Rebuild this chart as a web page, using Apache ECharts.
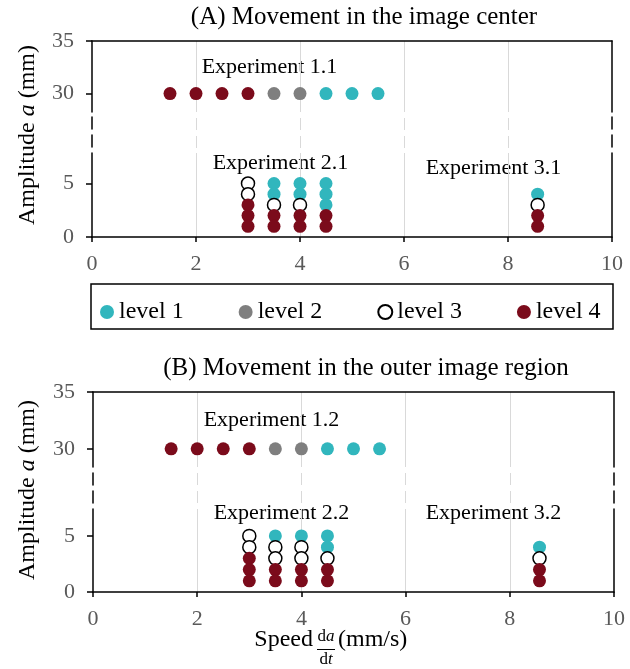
<!DOCTYPE html>
<html>
<head>
<meta charset="utf-8">
<script src="https://cdn.jsdelivr.net/npm/echarts@6/dist/echarts.min.js"></script>
<style>html,body{margin:0;padding:0;background:#fff}#c{width:630px;height:669px}</style>
</head>
<body>
<div id="c"></div>
<script>
// ---------- data ----------
const levelNames = ['level 1', 'level 2', 'level 3', 'level 4'];
const xTicks = [0, 2, 4, 6, 8, 10];
const yTicksUpper = [30, 35];
const yTicksLower = [0, 5];
// Panel A: movement in the image center  [speed, amplitude]
const A_level1 = [[4.5,30],[5,30],[5.5,30],[3.5,5],[3.5,4],[4,5],[4,4],[4.5,5],[4.5,4],[4.5,3],[8.57,4]];
const A_level2 = [[3.5,30],[4,30]];
const A_level3 = [[3,5],[3,4],[3.5,3],[4,3],[8.57,3]];
const A_level4 = [[1.5,30],[2,30],[2.5,30],[3,30],[3,3],[3,2],[3,1],[3.5,2],[3.5,1],[4,2],[4,1],[4.5,2],[4.5,1],[8.57,2],[8.57,1]];
// Panel B: movement in the outer image region
const B_level1 = [[4.5,30],[5,30],[5.5,30],[3.5,5],[4,5],[4.5,5],[4.5,4],[8.57,4]];
const B_level2 = [[3.5,30],[4,30]];
const B_level3 = [[3,5],[3,4],[3.5,4],[3.5,3],[4,4],[4,3],[4.5,3],[8.57,3]];
const B_level4 = [[1.5,30],[2,30],[2.5,30],[3,30],[3,3],[3,2],[3,1],[3.5,2],[3.5,1],[4,2],[4,1],[4.5,2],[4.5,1],[8.57,2],[8.57,1]];

// ---------- style ----------
const FONT = '"Liberation Serif", "Times New Roman", serif';
const TICKC = '#595959';
const GRIDC = '#d9d9d9';
const levelStyles = [
  {color: '#31b6bd'},
  {color: '#7f7f7f'},
  {color: '#ffffff', borderColor: '#000000', borderWidth: 1.5},
  {color: '#7b0b1b'}
];

const grids = [
  {left: 92, width: 520, top: 41,  height: 71, kind: 'upper', ymin: 28.25, ymax: 35},
  {left: 92, width: 520, top: 112, height: 41, kind: 'mid',   ymin: 0, ymax: 1},
  {left: 92, width: 520, top: 153, height: 84, kind: 'lower', ymin: 0, ymax: 7.85},
  {left: 93, width: 521, top: 392, height: 75, kind: 'upper', ymin: 28.4, ymax: 35},
  {left: 93, width: 521, top: 467, height: 42, kind: 'mid',   ymin: 0, ymax: 1},
  {left: 93, width: 521, top: 509, height: 83, kind: 'lower', ymin: 0, ymax: 7.4}
];

const blackLine = {color: '#000', width: 1.5};
const dashLine = {color: '#000', width: 1.5, type: [12, 6], dashOffset: 12};

const xAxes = [], yAxes = [];
grids.forEach((g, gi) => {
  const x = {
    type: 'value', gridIndex: gi, min: xTicks[0], max: xTicks[xTicks.length - 1], interval: 2,
    axisLine: {show: false, onZero: false},
    axisTick: {show: false},
    axisLabel: {show: false},
    splitLine: {show: true, showMinLine: false, showMaxLine: false, lineStyle: {color: GRIDC, width: 1}}
  };
  if (g.kind === 'upper') {
    x.position = 'top';
    x.axisLine = {show: true, onZero: false, lineStyle: blackLine};
  } else if (g.kind === 'mid') {
    x.splitLine.lineStyle = {color: GRIDC, width: 1, type: [12, 6], dashOffset: 12};
  } else {
    x.position = 'bottom';
    x.axisLine = {show: true, onZero: false, lineStyle: blackLine};
    x.axisTick = {show: true, inside: false, length: 5, lineStyle: {color: '#000', width: 1.5}};
    x.axisLabel = {show: true, color: TICKC, fontSize: 22, fontFamily: FONT, margin: 16};
  }
  xAxes.push(x);

  const left = {
    type: 'value', gridIndex: gi, position: 'left', min: g.ymin, max: g.ymax,
    axisLine: {show: true, onZero: false, lineStyle: g.kind === 'mid' ? dashLine : blackLine},
    axisTick: {show: false}, axisLabel: {show: false}, splitLine: {show: false}
  };
  if (g.kind !== 'mid') {
    const tv = g.kind === 'upper' ? yTicksUpper : yTicksLower;
    left.axisTick = {show: true, inside: false, length: 6, customValues: tv, lineStyle: {color: '#000', width: 1.5}};
    left.axisLabel = {show: true, customValues: tv, color: TICKC, fontSize: 22, fontFamily: FONT, margin: 18};
    left.splitLine = {show: true, showMinLine: false, showMaxLine: false, lineStyle: {color: GRIDC, width: 1}};
  }
  const right = {
    type: 'value', gridIndex: gi, position: 'right', min: g.ymin, max: g.ymax,
    axisLine: {show: true, onZero: false, lineStyle: g.kind === 'mid' ? dashLine : blackLine},
    axisTick: {show: false}, axisLabel: {show: false}, splitLine: {show: false}
  };
  yAxes.push(left, right);
});

const series = [];
function addPanel(levelsData, gUpper, gLower) {
  levelsData.forEach((pts, li) => {
    [[gUpper, p => p[1] >= 20], [gLower, p => p[1] < 20]].forEach(([gi, test]) => {
      series.push({
        type: 'scatter', name: levelNames[li],
        xAxisIndex: gi, yAxisIndex: gi * 2,
        symbol: 'circle', symbolSize: 13,
        itemStyle: Object.assign({opacity: 1}, levelStyles[li]),
        data: pts.filter(test),
        z: 3 + li
      });
    });
  });
}
addPanel([A_level1, A_level2, A_level3, A_level4], 0, 2);
addPanel([B_level1, B_level2, B_level3, B_level4], 3, 5);

function txt(x, y, text, size, extra) {
  return Object.assign({
    type: 'text', x: x, y: y, silent: true,
    style: Object.assign({text: text, fontFamily: FONT, fontSize: size, fill: '#000', align: 'center', verticalAlign: 'middle'}, extra && extra.style || {})
  }, extra && extra.el || {});
}

const graphics = [
  txt(364, 17, '(A) Movement in the image center', 25),
  txt(366, 368, '(B) Movement in the outer image region', 25),
  txt(269.5, 67, 'Experiment 1.1', 22),
  txt(280.5, 163, 'Experiment 2.1', 22),
  txt(493.5, 168, 'Experiment 3.1', 22),
  txt(271.5, 420, 'Experiment 1.2', 22),
  txt(281.5, 513, 'Experiment 2.2', 22),
  txt(493.5, 513, 'Experiment 3.2', 22),
  {
    type: 'text', x: 28, y: 135, rotation: Math.PI / 2, silent: true,
    style: {text: 'Amplitude {i|a} (mm)', fontFamily: FONT, fontSize: 24, fill: '#000', align: 'center', verticalAlign: 'middle',
      rich: {i: {fontStyle: 'italic', fontFamily: FONT, fontSize: 24}}}
  },
  {
    type: 'text', x: 28, y: 490, rotation: Math.PI / 2, silent: true,
    style: {text: 'Amplitude {i|a} (mm)', fontFamily: FONT, fontSize: 24, fill: '#000', align: 'center', verticalAlign: 'middle',
      rich: {i: {fontStyle: 'italic', fontFamily: FONT, fontSize: 24}}}
  },
  // x-axis name: Speed da/dt (mm/s)
  txt(313, 640, 'Speed', 24, {style: {align: 'right'}}),
  {
    type: 'text', x: 326, y: 637, silent: true,
    style: {text: 'd{i|a}', fontFamily: FONT, fontSize: 17, fill: '#000', align: 'center', verticalAlign: 'middle',
      rich: {i: {fontStyle: 'italic', fontFamily: FONT, fontSize: 17}}}
  },
  {type: 'line', silent: true, shape: {x1: 317, y1: 649.5, x2: 335, y2: 649.5}, style: {stroke: '#000', lineWidth: 1}},
  {
    type: 'text', x: 326, y: 660, silent: true,
    style: {text: 'd{i|t}', fontFamily: FONT, fontSize: 17, fill: '#000', align: 'center', verticalAlign: 'middle',
      rich: {i: {fontStyle: 'italic', fontFamily: FONT, fontSize: 17}}}
  },
  txt(338, 640, '(mm/s)', 24, {style: {align: 'left'}}),
  // legend frame
  {type: 'rect', silent: true, shape: {x: 91, y: 284, width: 522, height: 45}, style: {fill: 'none', stroke: '#000', lineWidth: 1.5}}
];

const chart = echarts.init(document.getElementById('c'), null, {renderer: 'canvas'});
chart.setOption({
  animation: false,
  backgroundColor: '#fff',
  grid: grids.map(g => ({left: g.left, top: g.top, width: g.width, height: g.height, outerBoundsMode: 'none', containLabel: false})),
  xAxis: xAxes,
  yAxis: yAxes,
  legend: {
    data: levelNames, selectedMode: false, left: 95, top: 295,
    icon: 'circle', itemWidth: 14, itemHeight: 14, itemGap: 55,
    textStyle: {fontSize: 24, fontFamily: FONT, color: '#000'}
  },
  series: series,
  graphic: graphics
});
</script>
</body>
</html>
